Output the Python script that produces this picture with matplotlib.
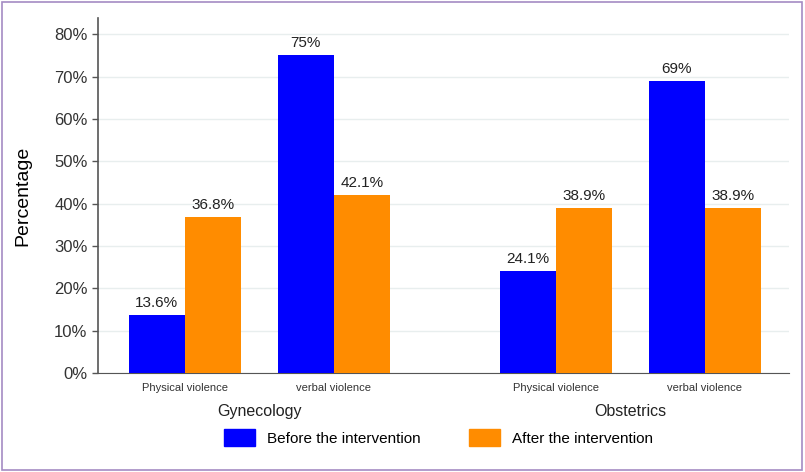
import matplotlib.pyplot as plt
from matplotlib.patches import Rectangle, Patch
import numpy as np

groups = ['Gynecology', 'Obstetrics']
categories = ['Physical violence', 'verbal violence', 'Physical violence', 'verbal violence']
before = [13.6, 75, 24.1, 69]
after = [36.8, 42.1, 38.9, 38.9]
before_labels = ['13.6%', '75%', '24.1%', '69%']
after_labels = ['36.8%', '42.1%', '38.9%', '38.9%']
yticks = [0, 10, 20, 30, 40, 50, 60, 70, 80]

plt.rcParams['font.family'] = ['Liberation Sans', 'DejaVu Sans']

fig = plt.figure(figsize=(8.05, 4.72), dpi=100)
ax = fig.add_axes([0.1217, 0.2097, 0.859, 0.752])

x = np.array([0, 1, 2.49, 3.49])
w = 0.376
ax.bar(x - w / 2, before, w, color='#0000ff', zorder=3)
ax.bar(x + w / 2, after, w, color='#ff8c00', zorder=3)

for xi, v, s in zip(x - w / 2, before, before_labels):
    ax.text(xi, v + 1.2, s, ha='center', va='bottom', fontsize=11, color='#222222')
for xi, v, s in zip(x + w / 2, after, after_labels):
    ax.text(xi, v + 1.2, s, ha='center', va='bottom', fontsize=11, color='#222222')

ax.set_xlim(-0.584, 4.06)
ax.set_ylim(0, 83.8)
ax.set_yticks(yticks)
ax.set_yticklabels([f'{t}%' for t in yticks], fontsize=12, color='#333333')
ax.set_xticks(x)
ax.set_xticklabels(categories, fontsize=8, color='#333333')
ax.tick_params(axis='x', length=0, pad=7)
ax.tick_params(axis='y', length=4, color='#555555', width=1)
ax.yaxis.grid(True, color='#e8eeee', lw=1, zorder=0)
ax.spines['top'].set_visible(False)
ax.spines['right'].set_visible(False)
ax.spines['left'].set_color('#555555')
ax.spines['bottom'].set_color('#555555')
ax.spines['left'].set_linewidth(1.2)

ax.set_ylabel('Percentage', fontsize=14, family=['Liberation Sans Narrow', 'Liberation Sans'], labelpad=16)

for gx, g in zip([0.5, 2.99], groups):
    ax.text(gx, -0.087, g, transform=ax.get_xaxis_transform(), ha='center', va='top', fontsize=11.5, color='#222222')

handles = [Patch(color='#0000ff', label='Before the intervention'),
           Patch(color='#ff8c00', label='After the intervention')]
fig.legend(handles=handles, loc='center', bbox_to_anchor=(0.545, 0.073), ncol=2, frameon=False,
           fontsize=11, handlelength=2.0, handleheight=1.4, columnspacing=3.2)

fig.patches.append(Rectangle((0.002, 0.004), 0.994, 0.992, transform=fig.transFigure,
                             fill=False, edgecolor='#a48bc4', lw=1.2))

fig.savefig('out.png', dpi=100)
